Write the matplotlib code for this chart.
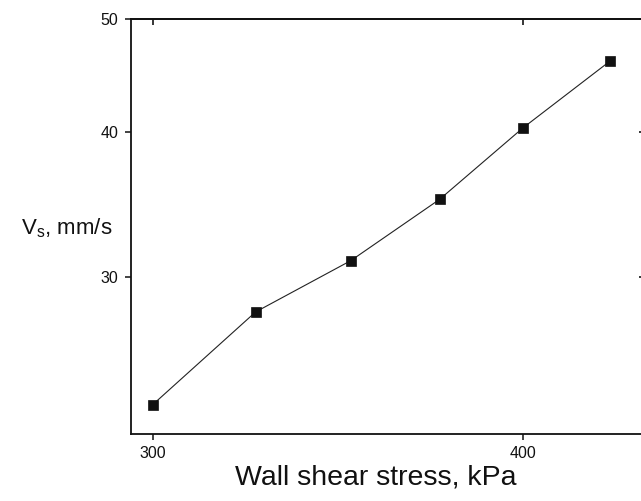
import matplotlib
matplotlib.use("Agg")
import matplotlib.pyplot as plt
from matplotlib.ticker import FixedLocator, NullLocator, FixedFormatter

plt.rcParams["font.family"] = ["Liberation Sans", "DejaVu Sans"]
plt.rcParams["mathtext.fontset"] = "custom"
plt.rcParams["mathtext.rm"] = "Liberation Sans"
plt.rcParams["mathtext.it"] = "Liberation Sans"

# wall shear stress (kPa) vs. slip velocity Vs (mm/s)
shear_stress = [300, 325, 350, 375, 400, 428]
slip_velocity = [23.3, 28.0, 31.0, 35.0, 40.3, 46.0]

x_ticks = [300, 400]
y_ticks = [30, 40, 50]

fig = plt.figure(figsize=(6.41, 5.01), dpi=100)
ax = fig.add_axes([0.2044, 0.1343, 0.8023, 0.8273])

ax.plot(shear_stress, slip_velocity, color="#222222", lw=0.8,
        marker="s", ms=7, mfc="#111111", mec="#111111", mew=0.5)

ax.set_xscale("log")
ax.set_yscale("log")
ax.set_xlim(295, 440)
ax.set_ylim(22, 50)

for axis, ticks in ((ax.xaxis, x_ticks), (ax.yaxis, y_ticks)):
    axis.set_major_locator(FixedLocator(ticks))
    axis.set_major_formatter(FixedFormatter([str(t) for t in ticks]))
    axis.set_minor_locator(NullLocator())

ax.tick_params(direction="out", length=4, width=1.1, labelsize=11.5,
               colors="#111111", pad=5)

# mirrored ticks on top/right point into the plot
top = ax.secondary_xaxis("top")
top.xaxis.set_major_locator(FixedLocator(x_ticks))
top.xaxis.set_minor_locator(NullLocator())
top.tick_params(direction="in", length=4, width=1.1, labeltop=False)
right = ax.secondary_yaxis("right")
right.yaxis.set_major_locator(FixedLocator(y_ticks))
right.yaxis.set_minor_locator(NullLocator())
right.tick_params(direction="in", length=4, width=1.1, labelright=False)

for a in (ax, top, right):
    for spine in a.spines.values():
        spine.set_linewidth(1.3)
        spine.set_color("#111111")

fig.text(376 / 641, 1 - 478 / 501, "Wall shear stress, kPa", fontsize=20.5,
         ha="center", va="center", color="#111111")
fig.text(67 / 641, 1 - 228 / 501, r"V$_{\rm s}$, mm/s", fontsize=16,
         ha="center", va="center", color="#111111")

fig.savefig("out.png", dpi=100, facecolor="white")
